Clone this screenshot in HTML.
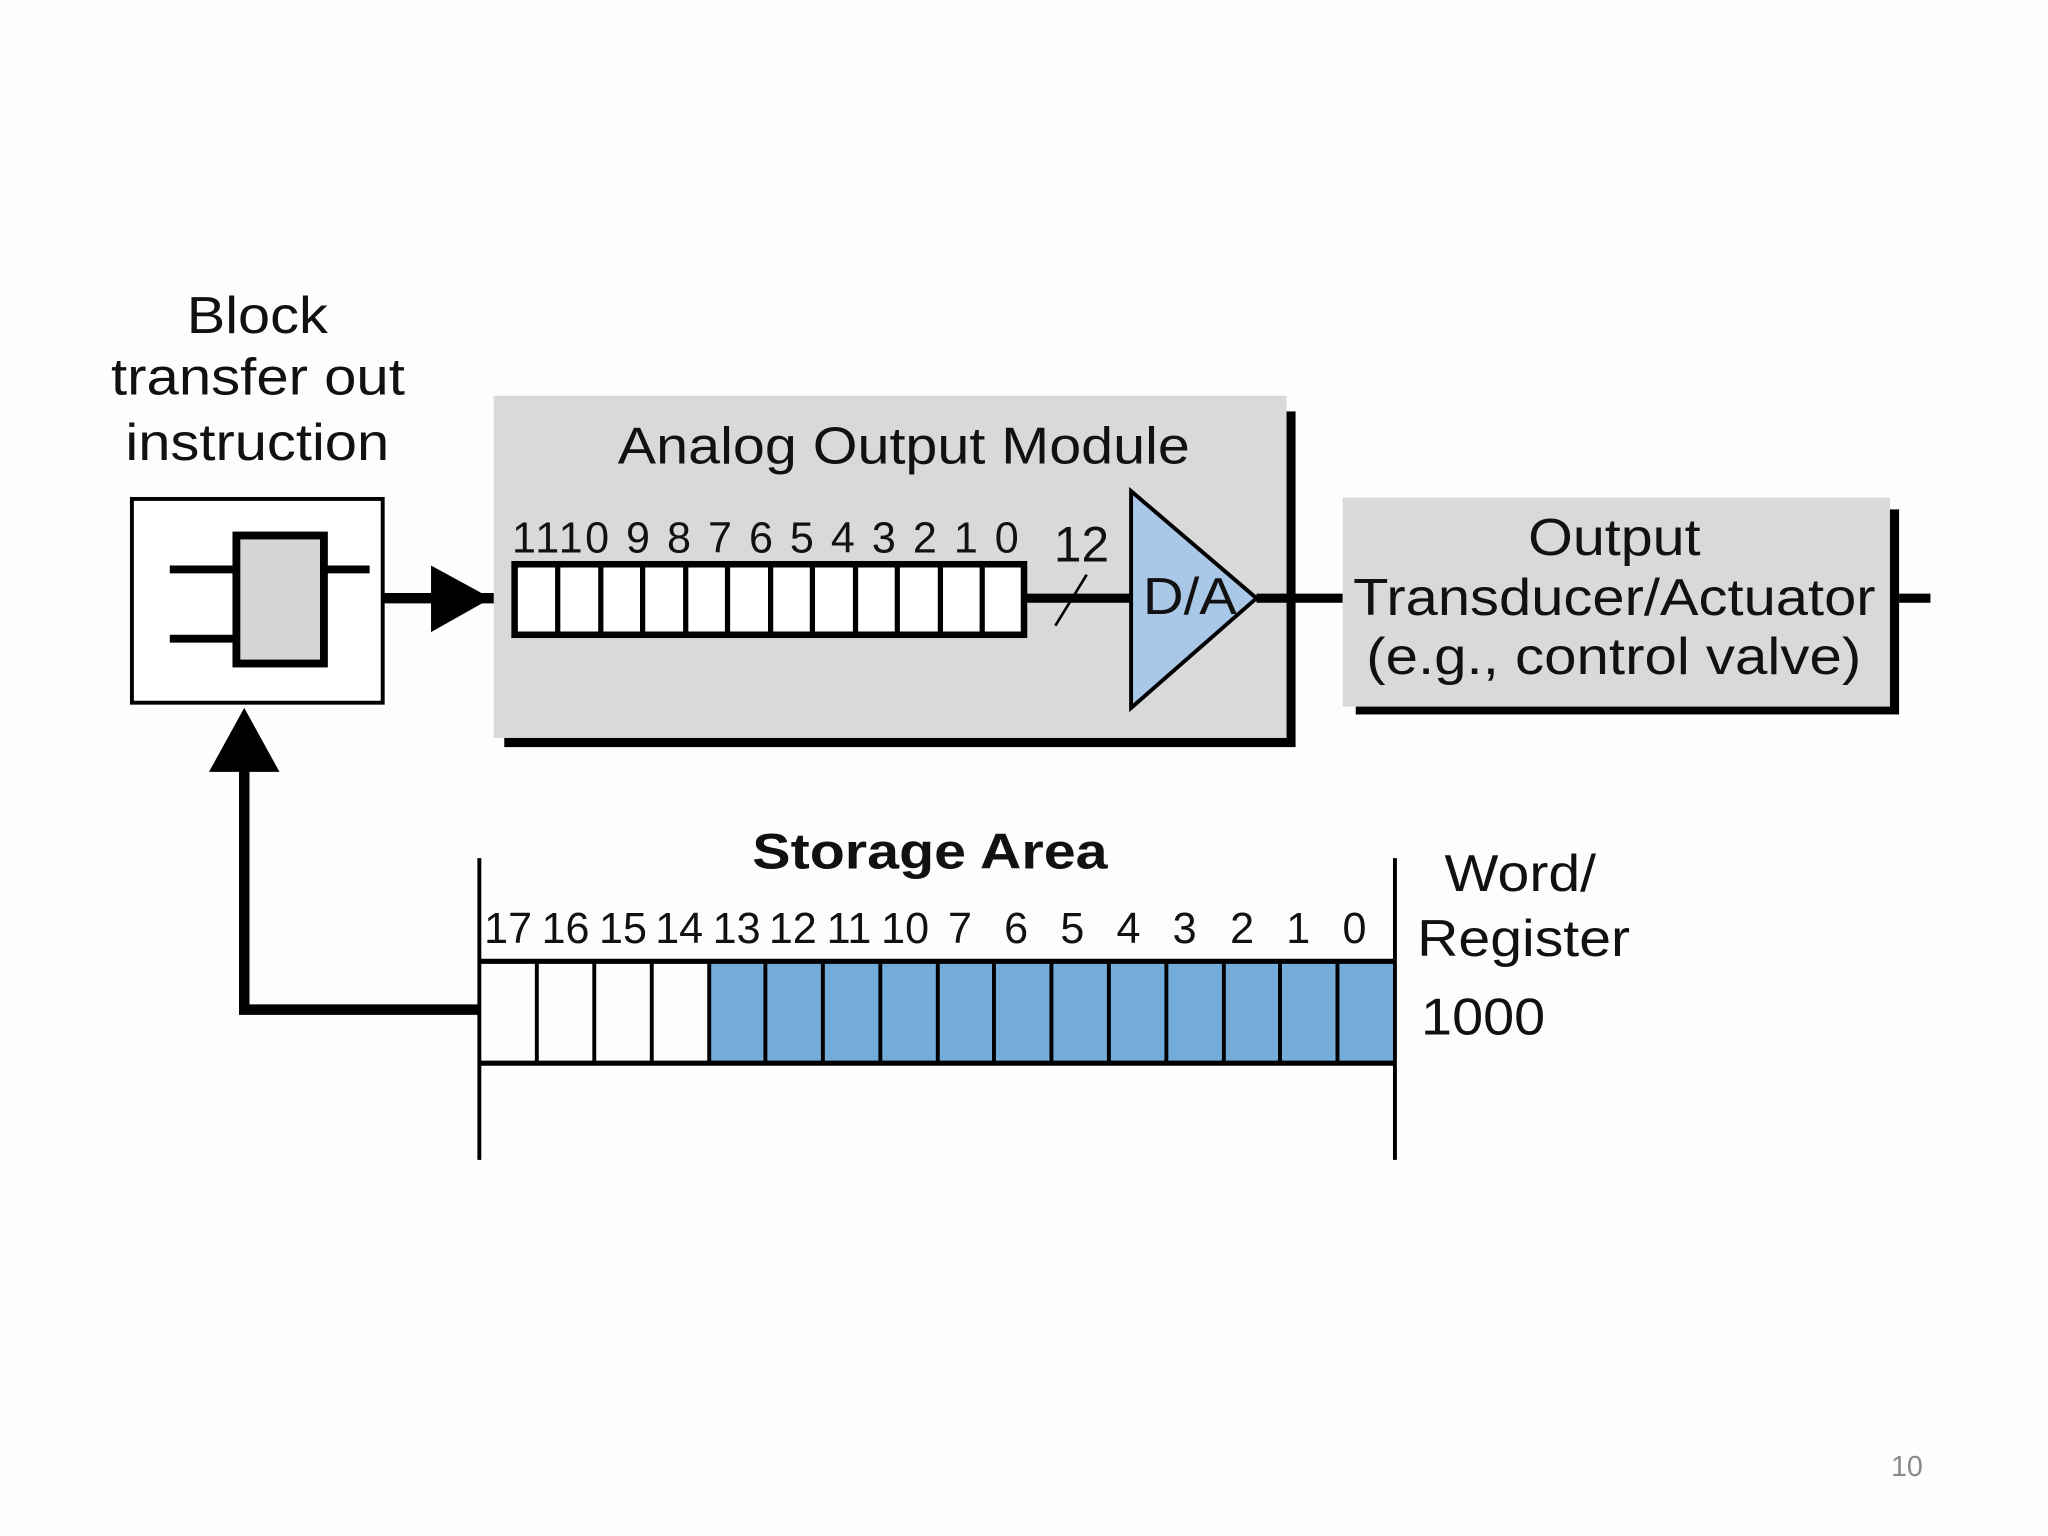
<!DOCTYPE html>
<html><head><meta charset="utf-8"><style>html,body{margin:0;padding:0;background:#fdfdfd}svg{display:block}text{font-family:"Liberation Sans",Arial,sans-serif;fill:#111}</style></head>
<body>
<svg width="2048" height="1536" viewBox="0 0 1568 1176" xmlns="http://www.w3.org/2000/svg">
<rect width="1568" height="1176" fill="#fdfdfd"/>
<g font-size="40">
<text x="143" y="255" textLength="108" lengthAdjust="spacingAndGlyphs">Block</text>
<text x="85" y="302" textLength="225" lengthAdjust="spacingAndGlyphs">transfer out</text>
<text x="96" y="352" textLength="202" lengthAdjust="spacingAndGlyphs">instruction</text>
</g>
<rect x="101" y="382" width="192" height="156" fill="#fff" stroke="#000" stroke-width="3"/>
<line x1="130" y1="436" x2="180" y2="436" stroke="#000" stroke-width="6"/>
<line x1="130" y1="489" x2="180" y2="489" stroke="#000" stroke-width="6"/>
<line x1="248" y1="436" x2="283" y2="436" stroke="#000" stroke-width="6"/>
<rect x="181" y="410" width="67" height="98" fill="#d6d6d6" stroke="#000" stroke-width="6"/>
<line x1="293" y1="458" x2="392" y2="458" stroke="#000" stroke-width="8"/>
<polygon points="330,433 376,458 330,484" fill="#000"/>
<rect x="386" y="315" width="606" height="257" fill="#000"/>
<rect x="378" y="303" width="607" height="262" fill="#d9d9d9"/>
<rect x="992" y="303" width="40" height="270" fill="#fdfdfd"/>
<rect x="378" y="565" width="8" height="10" fill="#fdfdfd"/>
<text x="473" y="355" font-size="40" textLength="438" lengthAdjust="spacingAndGlyphs">Analog Output Module</text>
<rect x="394" y="432" width="390" height="54" fill="#fff" stroke="#000" stroke-width="5"/>
<g stroke="#000" stroke-width="4">
<line x1="427" y1="432" x2="427" y2="486"/><line x1="460" y1="432" x2="460" y2="486"/><line x1="492" y1="432" x2="492" y2="486"/><line x1="525" y1="432" x2="525" y2="486"/><line x1="557" y1="432" x2="557" y2="486"/><line x1="590" y1="432" x2="590" y2="486"/><line x1="622" y1="432" x2="622" y2="486"/><line x1="655" y1="432" x2="655" y2="486"/><line x1="687" y1="432" x2="687" y2="486"/><line x1="720" y1="432" x2="720" y2="486"/><line x1="752" y1="432" x2="752" y2="486"/>
</g>
<text x="392" y="423" font-size="33" textLength="388" lengthAdjust="spacing">1110 9  8  7  6  5  4  3  2  1  0</text>
<line x1="785" y1="458" x2="868" y2="458" stroke="#000" stroke-width="7"/>
<line x1="808" y1="479" x2="832" y2="440" stroke="#000" stroke-width="2"/>
<text x="828" y="430" font-size="38" text-anchor="middle">12</text>
<polygon points="866,376 866,542 962,458" fill="#a9c8e8" stroke="#000" stroke-width="3"/>
<text x="875" y="470" font-size="40" textLength="72" lengthAdjust="spacingAndGlyphs">D/A</text>
<line x1="962" y1="458" x2="1028" y2="458" stroke="#000" stroke-width="7"/>
<rect x="1038" y="390" width="416" height="157" fill="#000"/>
<rect x="1028" y="381" width="419" height="160" fill="#d9d9d9"/>
<g font-size="40">
<text x="1170" y="425" textLength="132" lengthAdjust="spacingAndGlyphs">Output</text>
<text x="1036" y="471" textLength="400" lengthAdjust="spacingAndGlyphs">Transducer/Actuator</text>
<text x="1046" y="516" textLength="379" lengthAdjust="spacingAndGlyphs">(e.g., control valve)</text>
</g>
<line x1="1454" y1="458" x2="1478" y2="458" stroke="#000" stroke-width="7"/>
<polyline points="187,588 187,773 367,773" fill="none" stroke="#000" stroke-width="8"/>
<polygon points="160,591 214,591 187,542" fill="#000"/>
<text x="576" y="665" font-size="38" font-weight="bold" textLength="272" lengthAdjust="spacingAndGlyphs">Storage Area</text>
<rect x="542" y="736" width="526" height="78" fill="#74acd9"/>
<line x1="367" y1="736" x2="1068" y2="736" stroke="#000" stroke-width="4"/>
<line x1="367" y1="814" x2="1068" y2="814" stroke="#000" stroke-width="4"/>
<line x1="367" y1="657" x2="367" y2="888" stroke="#000" stroke-width="3"/>
<line x1="1068" y1="657" x2="1068" y2="888" stroke="#000" stroke-width="3"/>
<g stroke="#000" stroke-width="3">
<line x1="411" y1="736" x2="411" y2="814"/><line x1="455" y1="736" x2="455" y2="814"/><line x1="499" y1="736" x2="499" y2="814"/><line x1="543" y1="736" x2="543" y2="814"/><line x1="586" y1="736" x2="586" y2="814"/><line x1="630" y1="736" x2="630" y2="814"/><line x1="674" y1="736" x2="674" y2="814"/><line x1="718" y1="736" x2="718" y2="814"/><line x1="761" y1="736" x2="761" y2="814"/><line x1="805" y1="736" x2="805" y2="814"/><line x1="849" y1="736" x2="849" y2="814"/><line x1="893" y1="736" x2="893" y2="814"/><line x1="937" y1="736" x2="937" y2="814"/><line x1="980" y1="736" x2="980" y2="814"/><line x1="1024" y1="736" x2="1024" y2="814"/>
</g>
<g font-size="33" text-anchor="middle">
<text x="389" y="722">17</text><text x="433" y="722">16</text><text x="477" y="722">15</text><text x="520" y="722">14</text><text x="564" y="722">13</text><text x="607" y="722">12</text><text x="650" y="722">11</text><text x="693" y="722">10</text><text x="735" y="722">7</text><text x="778" y="722">6</text><text x="821" y="722">5</text><text x="864" y="722">4</text><text x="907" y="722">3</text><text x="951" y="722">2</text><text x="994" y="722">1</text><text x="1037" y="722">0</text>
</g>
<g font-size="40">
<text x="1106" y="682" textLength="116" lengthAdjust="spacingAndGlyphs">Word/</text>
<text x="1085" y="732" textLength="163" lengthAdjust="spacingAndGlyphs">Register</text>
<text x="1088" y="792" textLength="95" lengthAdjust="spacingAndGlyphs">1000</text>
</g>
<text x="1460" y="1130" font-size="22" style="fill:#8a8a8a" text-anchor="middle">10</text>
</svg>
</body></html>
